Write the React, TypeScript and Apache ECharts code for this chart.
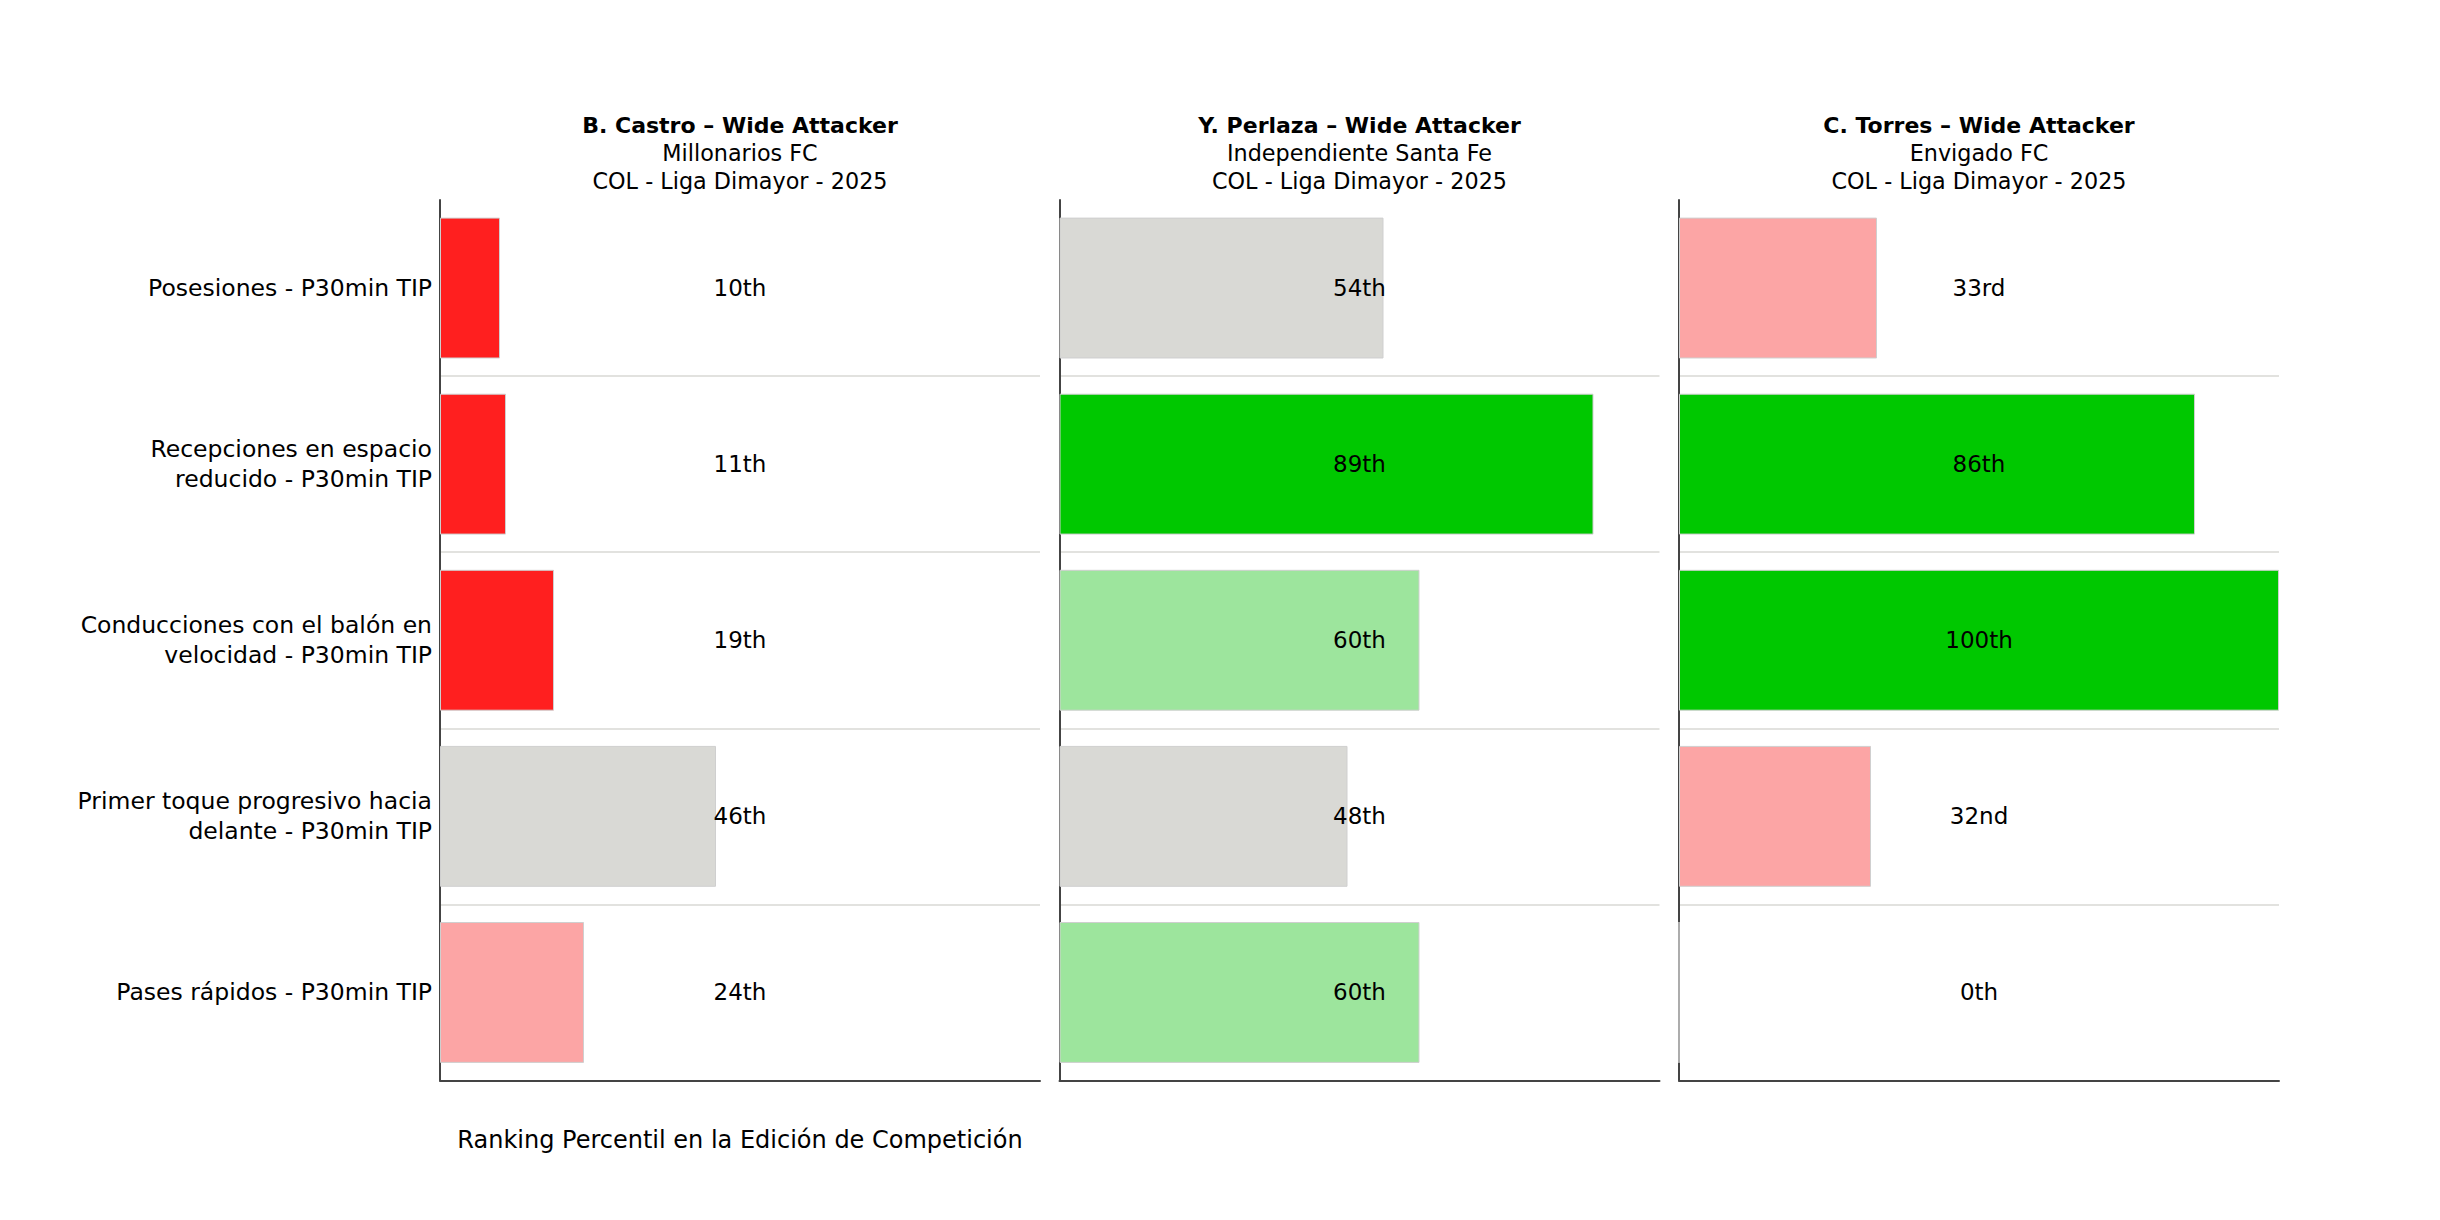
import React, { useEffect, useRef } from "react";
import * as echarts from "echarts";

// ---- data ----
const metrics = [
  "Posesiones - P30min TIP",
  "Recepciones en espacio\nreducido - P30min TIP",
  "Conducciones con el balón en\nvelocidad - P30min TIP",
  "Primer toque progresivo hacia\ndelante - P30min TIP",
  "Pases rápidos - P30min TIP",
];
const playerTitles = [
  "B. Castro – Wide Attacker",
  "Y. Perlaza – Wide Attacker",
  "C. Torres – Wide Attacker",
];
const teams = ["Millonarios FC", "Independiente Santa Fe", "Envigado FC"];
const competitions = [
  "COL - Liga Dimayor - 2025",
  "COL - Liga Dimayor - 2025",
  "COL - Liga Dimayor - 2025",
];
const castroValues = [10, 11, 19, 46, 24];
const perlazaValues = [54, 89, 60, 48, 60];
const torresValues = [33, 86, 100, 32, 0];
const panelValues = [castroValues, perlazaValues, torresValues];
const xAxisTitle = "Ranking Percentil en la Edición de Competición";

// ---- styling ----
const FONT = "DejaVu Sans";
const GRID_LEFT = 440;
const GRID_STEP = 619.5;
const GRID_W = 600;
const GRID_TOP = 200;
const GRID_H = 880.5;

function colorFor(v: number): string {
  if (v < 20) return "#ff1f1f";
  if (v < 40) return "#fca5a5";
  if (v < 60) return "#d9d9d5";
  if (v < 80) return "#9de59d";
  return "#00c800";
}

function ordinal(n: number): string {
  const m100 = n % 100;
  if (m100 >= 11 && m100 <= 13) return n + "th";
  const m10 = n % 10;
  if (m10 === 1) return n + "st";
  if (m10 === 2) return n + "nd";
  if (m10 === 3) return n + "rd";
  return n + "th";
}

export default function App() {
  const ref = useRef<HTMLDivElement>(null);
  useEffect(() => {
    if (!ref.current) return;
    const chart = echarts.init(ref.current, undefined, { renderer: "svg" });

    const grids = panelValues.map((_, i) => ({
      left: GRID_LEFT + i * GRID_STEP,
      top: GRID_TOP,
      width: GRID_W,
      height: GRID_H,
    }));

    const axisLineStyle = { color: "#444444", width: 2 };

    const xAxes = panelValues.map((_, i) => ({
      type: "value",
      gridIndex: i,
      min: 0,
      max: 100,
      axisLine: { show: true, onZero: false, lineStyle: axisLineStyle },
      axisTick: { show: false },
      axisLabel: { show: false },
      splitLine: { show: false },
    }));

    const yAxes = panelValues.map((_, i) => ({
      type: "category",
      gridIndex: i,
      data: metrics,
      inverse: true,
      axisLine: { show: true, onZero: false, lineStyle: axisLineStyle },
      axisTick: { show: false },
      axisLabel: {
        show: i === 0,
        fontFamily: FONT,
        fontSize: 23.5,
        lineHeight: 30,
        color: "#000000",
        margin: 8,
        align: "right",
      },
      splitLine: {
        show: true,
        showMinLine: false,
        showMaxLine: false,
        lineStyle: { color: "#d9d9d4", width: 1.7 },
      },
    }));

    const series: any[] = [];
    panelValues.forEach((vals, i) => {
      series.push({
        type: "bar",
        xAxisIndex: i,
        yAxisIndex: i,
        barCategoryGap: "20%",
        data: vals.map((v) => ({
          value: v,
          itemStyle: { color: colorFor(v) },
        })),
        itemStyle: { borderColor: "#cfcfcf", borderWidth: 1 },
        z: 2,
      });
      series.push({
        type: "scatter",
        xAxisIndex: i,
        yAxisIndex: i,
        symbolSize: 1,
        itemStyle: { color: "rgba(255,255,255,0)" },
        data: vals.map((v, j) => [50, j]),
        label: {
          show: true,
          position: "inside",
          formatter: (p: any) => ordinal(vals[p.dataIndex]),
          fontFamily: FONT,
          fontSize: 23,
          color: "#000000",
          opacity: 1,
          textBorderWidth: 0,
        },
        emphasis: { disabled: true },
        z: 5,
      });
    });

    const graphics: any[] = [];
    panelValues.forEach((_, i) => {
      const cx = GRID_LEFT + i * GRID_STEP + GRID_W / 2;
      graphics.push({
        type: "text",
        x: cx,
        y: 125,
        style: {
          text: playerTitles[i],
          font: `bold 22px "${FONT}"`,
          fill: "#000",
          textAlign: "center",
          textVerticalAlign: "middle",
        },
      });
      graphics.push({
        type: "text",
        x: cx,
        y: 153,
        style: {
          text: teams[i],
          font: `22.3px "${FONT}"`,
          fill: "#000",
          textAlign: "center",
          textVerticalAlign: "middle",
        },
      });
      graphics.push({
        type: "text",
        x: cx,
        y: 181,
        style: {
          text: competitions[i],
          font: `22.3px "${FONT}"`,
          fill: "#000",
          textAlign: "center",
          textVerticalAlign: "middle",
        },
      });
    });
    graphics.push({
      type: "text",
      x: GRID_LEFT + GRID_W / 2,
      y: 1140,
      style: {
        text: xAxisTitle,
        font: `24px "${FONT}"`,
        fill: "#000",
        textAlign: "center",
        textVerticalAlign: "middle",
      },
    });

    chart.setOption({
      animation: false,
      backgroundColor: "#ffffff",
      textStyle: { fontFamily: FONT },
      grid: grids,
      xAxis: xAxes,
      yAxis: yAxes,
      series,
      graphic: graphics,
    });
    return () => chart.dispose();
  }, []);

  return (
    <div
      ref={ref}
      style={{ position: "absolute", left: 0, top: 0, width: 2440, height: 1220 }}
    />
  );
}
